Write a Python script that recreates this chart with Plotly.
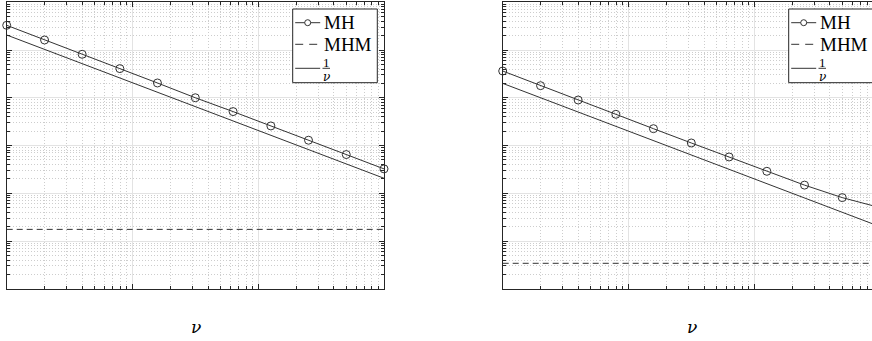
import plotly.graph_objects as go

# Sample points (log-spaced nu) shared by both panels
nu = [1, 2.0, 3.98, 7.94, 15.8, 31.6, 63.1, 126, 251, 501, 1000]

# Left panel series
mh_left = [0.329, 0.162, 0.0813, 0.0407, 0.0204, 0.0100, 0.00513, 0.00257, 0.00129, 0.000646, 0.000324]
mhm_left = [1.75e-5] * 11
ref_left = [0.206, 0.103, 0.0518, 0.0259, 0.0130, 0.00652, 0.00327, 0.00164, 0.00082, 0.000411, 0.000206]

# Right panel series
mh_right = [0.0363, 0.0179, 0.00897, 0.0045, 0.00225, 0.00113, 0.000575, 0.000288, 0.000148, 8.1e-5, 5.0e-5]
mhm_right = [3.41e-6] * 11
ref_right = [0.0200, 0.0100, 0.00503, 0.00252, 0.00126, 0.000632, 0.000317, 0.000159, 7.96e-5, 3.99e-5, 2.0e-5]

legend_labels = ["MH", "MHM"]
x_title = "ν"

W, H = 872, 341
INK = "#262626"
LINE = "#333333"
SERIF = "Liberation Serif"
GREEK = "DejaVu Serif"


def px(x):
    return x / W


def py(y):
    return 1 - y / H


fig = go.Figure()

panels = [
    ("x", "y", mh_left, mhm_left, ref_left),
    ("x2", "y2", mh_right, mhm_right, ref_right),
]
for xa, ya, mh, mhm, ref in panels:
    fig.add_trace(go.Scatter(
        x=nu, y=mh, xaxis=xa, yaxis=ya, mode="lines+markers", name=legend_labels[0],
        line=dict(color=LINE, width=1),
        marker=dict(symbol="circle-open", size=8, color=LINE, line=dict(width=1)),
        cliponaxis=False, showlegend=False))
    fig.add_trace(go.Scatter(
        x=nu, y=mhm, xaxis=xa, yaxis=ya, mode="lines", name=legend_labels[1],
        line=dict(color=LINE, width=1, dash="6px,4px"), showlegend=False))
    fig.add_trace(go.Scatter(
        x=nu, y=ref, xaxis=xa, yaxis=ya, mode="lines", name="1/ν",
        line=dict(color=LINE, width=1), showlegend=False))

# Panel geometry in pixels
left_x0, left_x1 = 6.7, 384.0
panel_w = left_x1 - left_x0
right_x0 = 502.7
top_y, bot_y = 2.25, 288.75
decades_x = 3.0
right_visible = (W - right_x0) / (panel_w / decades_x)

grid_major = "#e3e3e3"
grid_minor = "#cdcdcd"


def axis_style(**kw):
    d = dict(
        type="log", showticklabels=False, showline=True, linecolor=INK, linewidth=1.4,
        ticks="inside", ticklen=5, tickcolor=INK, tickwidth=1, dtick=1,
        showgrid=True, gridcolor=grid_major, gridwidth=1, zeroline=False,
        minor=dict(ticks="inside", ticklen=3, tickcolor=INK, dtick="D1",
                   showgrid=True, gridcolor=grid_minor, griddash="1px,2px", gridwidth=1),
    )
    d.update(kw)
    return d


ydom = [py(bot_y), py(top_y)]
fig.update_layout(
    width=W, height=H, margin=dict(l=0, r=0, t=0, b=0),
    paper_bgcolor="white", plot_bgcolor="white",
    xaxis=axis_style(domain=[px(left_x0), px(left_x1)], range=[0, decades_x], anchor="y", mirror="ticks"),
    yaxis=axis_style(domain=ydom, range=[-6, 0], anchor="x", mirror="ticks"),
    xaxis2=axis_style(domain=[px(right_x0), 1], range=[0, right_visible], anchor="y2", mirror="ticks"),
    yaxis2=axis_style(domain=ydom, range=[-6, 0], anchor="x2", mirror=False),
)

shapes = []
annotations = []
for x0 in (left_x0, right_x0):
    off = x0 - left_x0
    bx0, bx1 = 292.7 + off, 377.3 + off
    by0, by1 = 9.0, 82.7
    shapes.append(dict(type="rect", xref="paper", yref="paper",
                       x0=px(bx0), x1=px(bx1), y0=py(by1), y1=py(by0),
                       line=dict(color=INK, width=1), fillcolor="white", layer="above"))
    sx0, sx1 = bx0 + 2.5, bx0 + 27.5
    rows = [22.7, 44.3, 68.3]
    # MH sample
    shapes.append(dict(type="line", xref="paper", yref="paper",
                       x0=px(sx0), x1=px(sx1), y0=py(rows[0]), y1=py(rows[0]),
                       line=dict(color=LINE, width=1), layer="above"))
    shapes.append(dict(type="circle", xref="paper", yref="paper",
                       xsizemode="pixel", ysizemode="pixel",
                       xanchor=px((sx0 + sx1) / 2), yanchor=py(rows[0]),
                       x0=-3, x1=3, y0=-3, y1=3,
                       line=dict(color=LINE, width=1), fillcolor="white", layer="above"))
    # MHM sample
    shapes.append(dict(type="line", xref="paper", yref="paper",
                       x0=px(sx0), x1=px(sx1), y0=py(rows[1]), y1=py(rows[1]),
                       line=dict(color=LINE, width=1, dash="8px,6px"), layer="above"))
    # 1/nu sample
    shapes.append(dict(type="line", xref="paper", yref="paper",
                       x0=px(sx0), x1=px(sx1), y0=py(rows[2]), y1=py(rows[2]),
                       line=dict(color=LINE, width=1), layer="above"))
    tx = bx0 + 29.3
    for label, ry in zip(legend_labels, rows[:2]):
        annotations.append(dict(text=label, xref="paper", yref="paper",
                                x=px(tx), y=py(ry), xanchor="left", yanchor="middle",
                                showarrow=False, font=dict(family=SERIF, size=19, color="black")))
    # fraction 1/nu
    fx0, fx1 = tx + 0.5, tx + 8
    shapes.append(dict(type="line", xref="paper", yref="paper",
                       x0=px(fx0), x1=px(fx1), y0=py(68.3), y1=py(68.3),
                       line=dict(color="black", width=0.8), layer="above"))
    annotations.append(dict(text="1", xref="paper", yref="paper",
                            x=px((fx0 + fx1) / 2), y=py(62.3), xanchor="center", yanchor="middle",
                            showarrow=False, font=dict(family=SERIF, size=13, color="black")))
    annotations.append(dict(text="<i>ν</i>", xref="paper", yref="paper",
                            x=px((fx0 + fx1) / 2), y=py(76.5), xanchor="center", yanchor="middle",
                            showarrow=False, font=dict(family=GREEK, size=12, color="black")))
    # x-axis title
    annotations.append(dict(text="<i>" + x_title + "</i>", xref="paper", yref="paper",
                            x=px(x0 + panel_w / 2 + 1), y=py(326.7), xanchor="center", yanchor="middle",
                            showarrow=False, font=dict(family=GREEK, size=17, color="black")))

fig.update_layout(shapes=shapes, annotations=annotations)
fig.write_html("out.html")
